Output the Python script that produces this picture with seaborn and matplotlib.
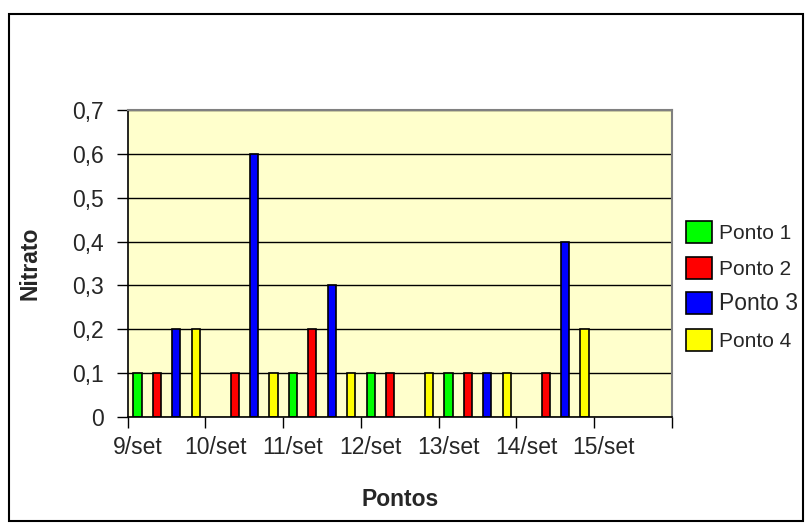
import numpy as np
import pandas as pd
import matplotlib
matplotlib.use("Agg")
import matplotlib.pyplot as plt
from matplotlib.patches import Patch, Rectangle
import seaborn as sns

# Nitrate readings per sampling date and sampling point (None = no reading)
datas = ["9/set", "10/set", "11/set", "12/set", "13/set", "14/set", "15/set"]
pontos = ["Ponto 1", "Ponto 2", "Ponto 3", "Ponto 4"]
ponto1 = [0.1, None, 0.1, 0.1, 0.1, None, None]
ponto2 = [0.1, 0.1, 0.2, 0.1, 0.1, 0.1, None]
ponto3 = [0.2, 0.6, 0.3, None, 0.1, 0.4, None]
ponto4 = [0.2, 0.1, 0.1, 0.1, 0.1, 0.2, None]
cores = ["#00FF00", "#FF0000", "#0000FF", "#FFFF00"]
y_ticks = [0, 0.1, 0.2, 0.3, 0.4, 0.5, 0.6, 0.7]
y_labels = ["0", "0,1", "0,2", "0,3", "0,4", "0,5", "0,6", "0,7"]

# Each date owns four consecutive slots, one per sampling point
series = [ponto1, ponto2, ponto3, ponto4]
rows = []
for i, d in enumerate(datas):
    for j, p in enumerate(pontos):
        v = series[j][i]
        if v is not None:
            rows.append({"slot": i * 4 + j, "ponto": p, "valor": v})
df = pd.DataFrame(rows)
n_slots = len(datas) * len(pontos)

sns.set_style("white")
plt.rcParams["font.family"] = ["Liberation Sans", "DejaVu Sans"]
fs = 16.5

fig = plt.figure(figsize=(8.1, 5.25), dpi=100)
ax = fig.add_axes([127.7 / 810, 1 - 417 / 525, (672 - 127.7) / 810, (417 - 110) / 525])
ax.set_facecolor("#FFFFCC")
ax.set_axisbelow(True)

sns.barplot(data=df, x="slot", y="valor", hue="ponto",
            order=list(range(n_slots)), hue_order=pontos,
            palette=dict(zip(pontos, cores)), saturation=1, dodge=False,
            width=0.42, edgecolor="black", linewidth=1.2, errorbar=None,
            legend=False, ax=ax)

ax.set_xlim(-0.5, n_slots - 0.5)
ax.set_ylim(0, 0.7)
ax.set_yticks(y_ticks)
ax.set_yticklabels(y_labels, fontsize=fs)
ax.yaxis.grid(True, color="black", linewidth=1)
ax.xaxis.grid(False)

# Tick marks on date boundaries, date labels under the first slot of each date
ax.set_xticks(np.arange(-0.5, n_slots, 4))
ax.set_xticklabels([""] * len(np.arange(-0.5, n_slots, 4)))
ax.set_xticks(np.arange(0, n_slots, 4), minor=True)
ax.set_xticklabels(datas, minor=True, fontsize=fs)
ax.tick_params(axis="x", which="major", length=8, width=1, color="black",
               direction="out", bottom=True)
ax.tick_params(axis="x", which="minor", length=0, pad=14)
ax.tick_params(axis="y", length=8, width=1, color="black", direction="out",
               left=True, pad=9)
ax.set_xlabel("")
ax.set_ylabel("")

for s in ["left", "bottom"]:
    ax.spines[s].set_color("black")
    ax.spines[s].set_linewidth(1.2)
for s in ["top", "right"]:
    ax.spines[s].set_color("#808080")
    ax.spines[s].set_linewidth(1.5)

fig.text(30 / 810, 1 - 263.5 / 525, "Nitrato", rotation=90, ha="center",
         va="center", fontsize=fs, fontweight="bold")
fig.text(400 / 810, 1 - 499 / 525, "Pontos", ha="center", va="center",
         fontsize=fs, fontweight="bold")

lfs = 15
handles = [Patch(facecolor=c, edgecolor="black", linewidth=1.2, label=p)
           for p, c in zip(pontos, cores)]
leg = fig.legend(handles=handles, loc="upper left",
                 bbox_to_anchor=(686 / 810, 1 - 221 / 525), frameon=False,
                 fontsize=lfs, handlelength=1.27, handleheight=1.25,
                 handletextpad=0.3, labelspacing=0.65, borderpad=0,
                 borderaxespad=0)
leg.get_texts()[2].set_fontsize(16.5)

fig.add_artist(Rectangle((8.5 / 810, 1 - 521 / 525), (803 - 8.5) / 810,
                         (521 - 13.5) / 525, transform=fig.transFigure,
                         fill=False, edgecolor="black", linewidth=1.5))

fig.savefig("out.png", dpi=100)
